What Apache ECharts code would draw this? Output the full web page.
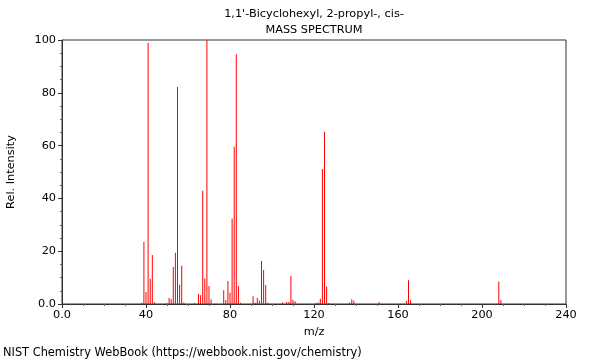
<!DOCTYPE html>
<html>
<head>
<meta charset="utf-8">
<script src="https://cdn.jsdelivr.net/npm/echarts@6/dist/echarts.min.js"></script>
<style>html,body{margin:0;padding:0;background:#fff}#c{width:600px;height:360px}</style>
</head>
<body>
<div id="c"></div>
<script>
const titleLines = ["1,1'-Bicyclohexyl, 2-propyl-, cis-", "MASS SPECTRUM"];
const footer = "NIST Chemistry WebBook (https://webbook.nist.gov/chemistry)";
const mz = [38,39,40,41,42,43,44,50,51,52,53,54,55,56,57,58,63,65,66,67,68,69,70,71,77,78,79,80,81,82,83,84,85,91,92,93,94,95,96,97,98,105,107,108,109,110,111,121,122,123,124,125,126,127,137,138,139,151,164,165,166,208,209];
const intensity = [0.5,23.5,4.5,99,9.6,18.6,0.7,0.3,2.3,1.8,14.0,19.4,82.2,7.3,14.5,0.6,0.3,3.8,3.3,42.9,9.7,100,6.8,1.8,5.2,1.5,8.7,4.4,32.4,59.6,94.6,6.8,0.5,2.9,0.5,2.3,1.3,16.3,12.9,7.2,0.5,0.6,0.8,0.8,10.6,1.6,1.0,0.4,0.6,2.0,51.1,65.2,6.6,0.4,0.6,1.8,1.2,0.8,1.1,9.0,1.5,8.5,1.5];
const xTicks = [0,40,80,120,160,200,240];
const yTicks = [0,20,40,60,80,100];

const chart = echarts.init(document.getElementById('c'), null, {renderer:'canvas'});
const font = 'DejaVu Sans';
const data = mz.map((m,i)=>[m, intensity[i]]);
chart.setOption({
  animation:false,
  grid:{left:62,right:34,top:40,bottom:56,show:true,borderColor:'#333',borderWidth:1,containLabel:false,outerBoundsMode:'none'},
  graphic:[
    {type:'text',x:314,y:9,style:{text:titleLines[0],font:'11.3px "DejaVu Sans"',fill:'#000',align:'center'}},
    {type:'text',x:314,y:25,style:{text:titleLines[1],font:'11.3px "DejaVu Sans"',fill:'#000',align:'center'}},
    {type:'text',x:3,y:348,style:{text:footer,font:'11.4px "DejaVu Sans"',fill:'#000'}}
  ],
  xAxis:{type:'value',min:0,max:240,interval:40,
    name:'m/z',nameLocation:'middle',nameGap:23,nameTextStyle:{fontFamily:font,fontSize:11.3,color:'#000'},
    axisLine:{lineStyle:{color:'#333'}},
    axisTick:{show:true,length:4,lineStyle:{color:'#333'}},
    minorTick:{show:true,splitNumber:4,length:2,lineStyle:{color:'#666'}},
    splitLine:{show:false},
    axisLabel:{fontFamily:font,fontSize:11.3,color:'#000',margin:6,formatter:v=>v===0?'0.0':String(v)}
  },
  yAxis:{type:'value',min:0,max:100,interval:20,
    name:'Rel. Intensity',nameLocation:'middle',nameGap:45,nameRotate:90,nameTextStyle:{fontFamily:font,fontSize:11.3,color:'#000'},
    axisLine:{show:true,lineStyle:{color:'#333'}},
    axisTick:{show:true,length:4,lineStyle:{color:'#333'}},
    minorTick:{show:true,splitNumber:4,length:2,lineStyle:{color:'#666'}},
    splitLine:{show:false},
    axisLabel:{fontFamily:font,fontSize:11.3,color:'#000',margin:6,formatter:v=>v===0?'0.0':String(v)}
  },
  series:[{type:'bar',data:data,barWidth:1,itemStyle:{color:'#ff0000'},silent:true}]
});
</script>
</body>
</html>
